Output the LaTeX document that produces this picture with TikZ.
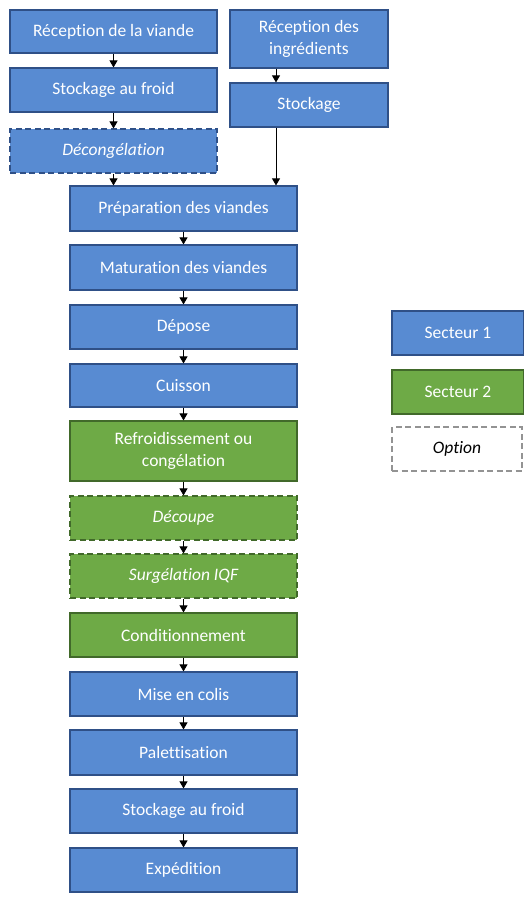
\documentclass[tikz,border=0pt]{standalone}
\usepackage{fontspec}
\setmainfont{Carlito}[Ligatures=NoCommon]
\usetikzlibrary{arrows.meta}

\definecolor{secblue}{RGB}{88,139,210}
\definecolor{secblueline}{RGB}{47,80,135}
\definecolor{secgreen}{RGB}{110,170,70}
\definecolor{secgreenline}{RGB}{65,105,42}

\begin{document}
\begin{tikzpicture}[
    x=1pt, y=-1pt,
    sec1 box/.style={rectangle, draw=secblueline, fill=secblue, line width=1.2pt, text=white, align=center, inner sep=0pt, minimum height=44pt, font=\fontsize{17.5}{21.5}\selectfont},
    sec2 box/.style={sec1 box, draw=secgreenline, fill=secgreen},
    opt box/.style={dashed, dash pattern=on 6pt off 3.5pt, font=\fontsize{17.5}{21.5}\selectfont\itshape},
    flow/.style={draw=black, line width=0.8pt, -{Triangle[length=7pt, width=8pt]}}
]
\useasboundingbox (0,0) rectangle (524,897);

% Filière viande (colonne gauche)
\node[sec1 box, minimum width=207pt, minimum height=43pt] (recv)   at (113.5, 31.5) {Réception de la viande};
\node[sec1 box, minimum width=207pt]                      (stockf) at (113.5,  90)  {Stockage au froid};
\node[sec1 box, opt box, minimum width=207pt]             (decong) at (113.5, 151)  {Décongélation};

% Filière ingrédients (colonne droite)
\node[sec1 box, minimum width=158pt, minimum height=58pt] (recvi) at (309, 39)  {Réception des\\ingrédients};
\node[sec1 box, minimum width=158pt]                      (stock) at (309, 105) {Stockage};

% Tronc commun
\node[sec1 box, minimum width=227pt, minimum height=45pt] (prep)    at (183.5, 208.5) {Préparation des viandes};
\node[sec1 box, minimum width=227pt, minimum height=45pt] (matur)   at (183.5, 267.5) {Maturation des viandes};
\node[sec1 box, minimum width=227pt]                      (depose)  at (183.5, 327)   {Dépose};
\node[sec1 box, minimum width=227pt, minimum height=43pt] (cuisson) at (183.5, 385.5) {Cuisson};
\node[sec2 box, minimum width=227pt, minimum height=60pt] (refroid) at (183.5, 451)   {Refroidissement ou\\congélation};
\node[sec2 box, opt box, minimum width=227pt]             (decoupe) at (183.5, 518)   {Découpe};
\node[sec2 box, opt box, minimum width=227pt]             (surg)    at (183.5, 576)   {Surgélation IQF};
\node[sec2 box, minimum width=227pt]                      (cond)    at (183.5, 635)   {Conditionnement};
\node[sec1 box, minimum width=227pt]                      (colis)   at (183.5, 694)   {Mise en colis};
\node[sec1 box, minimum width=227pt, minimum height=45pt] (palet)   at (183.5, 752.5) {Palettisation};
\node[sec1 box, minimum width=227pt]                      (stockf2) at (183.5, 811)   {Stockage au froid};
\node[sec1 box, minimum width=227pt]                      (exped)   at (183.5, 870)   {Expédition};

% Légende
\node[sec1 box, minimum width=132pt] (leg1) at (458, 333) {Secteur 1};
\node[sec2 box, minimum width=132pt] (leg2) at (458, 392) {Secteur 2};
\node[sec1 box, opt box, draw=gray!85, fill=white, text=black, line width=1.1pt, minimum width=130pt] (leg3) at (457, 449) {Option};

% Enchaînements
\draw[flow] (recv)   -- (stockf);
\draw[flow] (stockf) -- (decong);
\draw[flow] (decong.south) -- (decong.south |- prep.north);
\draw[flow] ([xshift=-33pt]recvi.south) -- ([xshift=-33pt]stock.north);
\draw[flow] ([xshift=-33pt]stock.south) -- ([xshift=-33pt]stock.south |- prep.north);
\draw[flow] (prep)    -- (matur);
\draw[flow] (matur)   -- (depose);
\draw[flow] (depose)  -- (cuisson);
\draw[flow] (cuisson) -- (refroid);
\draw[flow] (refroid) -- (decoupe);
\draw[flow] (decoupe) -- (surg);
\draw[flow] (surg)    -- (cond);
\draw[flow] (cond)    -- (colis);
\draw[flow] (colis)   -- (palet);
\draw[flow] (palet)   -- (stockf2);
\draw[flow] (stockf2) -- (exped);

\end{tikzpicture}
\end{document}
